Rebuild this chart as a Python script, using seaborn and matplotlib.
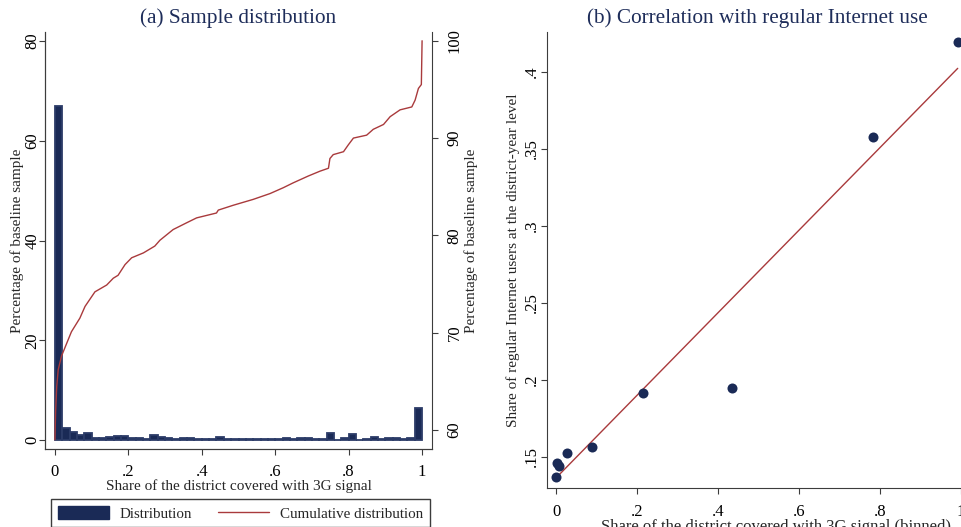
import numpy as np
import pandas as pd
import matplotlib
matplotlib.use("Agg")
import matplotlib.pyplot as plt
from matplotlib.patches import Patch
from matplotlib.lines import Line2D
import seaborn as sns

# ---- panel (a): histogram of 3G coverage share (percent of baseline sample), 50 bins of .02
bin_width = 0.02
hist_pct = [67.0, 2.5, 1.6, 1.1, 1.4, 0.5, 0.5, 0.7, 0.8, 0.8,
            0.5, 0.4, 0.3, 0.95, 0.6, 0.5, 0.3, 0.4, 0.4, 0.3,
            0.15, 0.15, 0.7, 0.3, 0.15, 0.15, 0.15, 0.3, 0.15, 0.3,
            0.3, 0.5, 0.3, 0.4, 0.4, 0.3, 0.3, 1.35, 0.05, 0.4,
            1.2, 0.1, 0.15, 0.65, 0.15, 0.5, 0.5, 0.15, 0.4, 6.4]

# cumulative distribution (right axis)
cdf_x = [0.0, 0.002, 0.005, 0.009, 0.018, 0.032, 0.045, 0.068, 0.082, 0.10,
         0.109, 0.141, 0.159, 0.172, 0.191, 0.209, 0.241, 0.272, 0.286, 0.322,
         0.359, 0.386, 0.44, 0.445, 0.486, 0.54, 0.586, 0.622, 0.649, 0.69,
         0.722, 0.745, 0.749, 0.758, 0.786, 0.799, 0.813, 0.849, 0.867, 0.895,
         0.913, 0.94, 0.972, 0.981, 0.99, 0.998, 1.0]
cdf_y = [59.0, 62.0, 64.5, 66.2, 67.6, 68.9, 70.1, 71.5, 72.7, 73.7,
         74.2, 74.9, 75.6, 75.9, 77.0, 77.7, 78.2, 78.9, 79.5, 80.6,
         81.3, 81.8, 82.3, 82.6, 83.1, 83.7, 84.3, 84.9, 85.4, 86.1,
         86.6, 86.9, 87.9, 88.3, 88.6, 89.3, 90.0, 90.3, 90.9, 91.4,
         92.2, 92.9, 93.2, 93.9, 95.1, 95.5, 100.0]

# ---- panel (b): binned scatter + linear fit
bin_x = [0.0, 0.0015, 0.0065, 0.027, 0.088, 0.215, 0.434, 0.783, 0.993]
bin_y = [0.1366, 0.1461, 0.1440, 0.1526, 0.1561, 0.1912, 0.1944, 0.3574, 0.4195]
fit_x = [0.0, 0.993]
fit_y = [0.1365, 0.4022]

xtick_vals = [0, 0.2, 0.4, 0.6, 0.8, 1]
xtick_labs = ["0", ".2", ".4", ".6", ".8", "1"]
ytick_a = [0, 20, 40, 60, 80]
ytick_a2 = [60, 70, 80, 90, 100]
ytick_b = [0.15, 0.2, 0.25, 0.3, 0.35, 0.4]
ytick_b_labs = [".15", ".2", ".25", ".3", ".35", ".4"]

navy = "#1a2a56"
red = "#a93a3c"
axcol = "#3c3c3c"

sns.set_style("ticks")
plt.rcParams["font.family"] = ["Liberation Serif", "DejaVu Serif"]
plt.rcParams["axes.edgecolor"] = axcol
plt.rcParams["xtick.color"] = axcol
plt.rcParams["ytick.color"] = axcol
plt.rcParams["xtick.labelcolor"] = "black"
plt.rcParams["ytick.labelcolor"] = "black"

W, H = 961, 527
fig = plt.figure(figsize=(W / 100, H / 100), dpi=100)

def box(l, t, r, b):
    return [l / W, 1 - b / H, (r - l) / W, (b - t) / H]

# ---------------- panel (a)
ax = fig.add_axes(box(45, 32, 432, 449))
hist_df = pd.DataFrame({"share": np.arange(len(hist_pct)) * bin_width + bin_width / 2,
                        "pct": hist_pct})
sns.histplot(data=hist_df, x="share", weights="pct", binwidth=bin_width,
             binrange=(0, 1), ax=ax, color=navy, alpha=1,
             edgecolor="#2c3c68", linewidth=1.3)
ax.set_xlim(-0.027, 1.027)
ax.set_ylim(-1.8, 81.8)
ax.set_xticks(xtick_vals, xtick_labs)
ax.set_yticks(ytick_a)
ax.tick_params(axis="y", labelrotation=90, length=4.5, width=0.8, labelsize=12, pad=-1)
ax.tick_params(axis="x", length=4.5, width=0.8, labelsize=12, pad=6)
for lab in ax.get_yticklabels():
    lab.set_va("center")
ax.set_xlabel("Share of the district covered with 3G signal", fontsize=11, labelpad=0)
ax.set_ylabel("Percentage of baseline sample", fontsize=11, labelpad=0)
ax.spines["top"].set_visible(False)
ax.spines["right"].set_visible(False)

ax2 = ax.twinx()
sns.lineplot(x=cdf_x, y=cdf_y, ax=ax2, color=red, linewidth=1.0,
             estimator=None, sort=False)
ax2.set_ylim(58.05, 100.9)
ax2.set_yticks(ytick_a2)
ax2.tick_params(axis="y", labelrotation=90, length=4.5, width=0.8, labelsize=12, pad=6)
for lab in ax2.get_yticklabels():
    lab.set_va("center")
ax2.set_ylabel("Percentage of baseline sample", fontsize=11, labelpad=1)
ax2.spines["top"].set_visible(False)
for s in ["left", "right", "bottom"]:
    ax2.spines[s].set_linewidth(0.8)

handles = [Patch(facecolor=navy, edgecolor=navy),
           Line2D([], [], color=red, linewidth=1.0)]
fig.legend(handles, ["Distribution", "Cumulative distribution"], ncol=2,
           loc="upper left", bbox_to_anchor=(51 / W, 1 - 499 / H),
           fontsize=10.8, frameon=True, fancybox=False, framealpha=1,
           edgecolor=axcol, borderpad=0.45, handlelength=3.4, handleheight=1.0,
           handletextpad=0.75, columnspacing=1.7, borderaxespad=0)

fig.text(238.5 / W, 1 - 18 / H, "(a) Sample distribution", ha="center",
         va="center", fontsize=15.3, color="#1e2d5a")

# ---------------- panel (b)
bx = fig.add_axes(box(546.7, 32, 1005, 488))
sns.lineplot(x=fit_x, y=fit_y, ax=bx, color=red, linewidth=1.0,
             estimator=None, sort=False)
sns.scatterplot(x=bin_x, y=bin_y, ax=bx, color=navy, s=52, edgecolor=navy,
                linewidth=0, zorder=3)
bx.set_xlim(-0.024, 1.11)
bx.set_ylim(0.1297, 0.4258)
bx.set_xticks(xtick_vals, xtick_labs)
bx.set_yticks(ytick_b, ytick_b_labs)
bx.tick_params(axis="y", labelrotation=90, length=4.5, width=0.8, labelsize=12, pad=0.5)
bx.tick_params(axis="x", length=4.5, width=0.8, labelsize=12, pad=7)
for lab in bx.get_yticklabels():
    lab.set_va("center")
bx.set_xlabel("Share of the district covered with 3G signal (binned)", fontsize=12, labelpad=-1)
bx.set_ylabel("Share of regular Internet users at the district-year level", fontsize=11, labelpad=3)
bx.spines["top"].set_visible(False)
bx.spines["right"].set_visible(False)
for s in ["left", "bottom"]:
    bx.spines[s].set_linewidth(0.8)
    ax.spines[s].set_linewidth(0.8)

fig.text(757.8 / W, 1 - 18 / H, "(b) Correlation with regular Internet use",
         ha="center", va="center", fontsize=15.3, color="#1e2d5a")

fig.savefig("out.png", dpi=100)
